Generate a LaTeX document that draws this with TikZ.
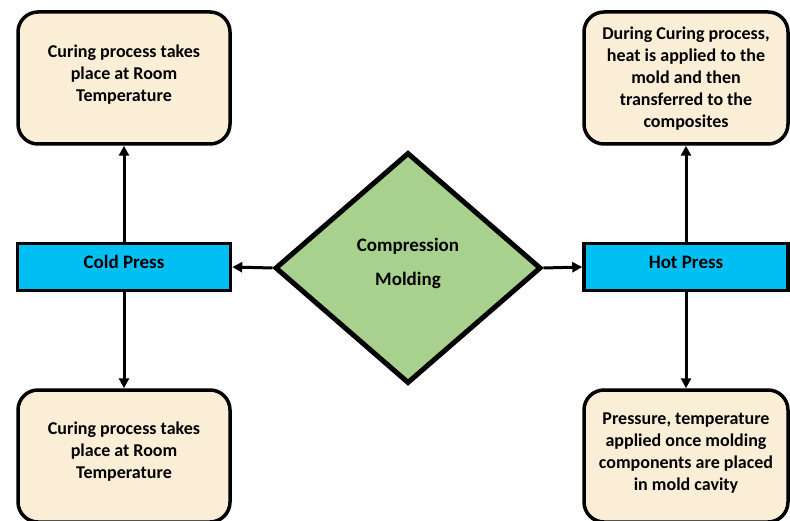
\documentclass[tikz,border=0pt]{standalone}
\usepackage{fontspec}
\setmainfont{Carlito}
\usetikzlibrary{shapes.geometric,arrows.meta}
\definecolor{cream}{RGB}{250,238,214}
\definecolor{pressblue}{RGB}{0,191,243}
\definecolor{diagreen}{RGB}{169,209,142}
\newcommand{\liftby}[2]{\raisebox{#1}[\height][\depth]{#2}}
\tikzset{
  infobox/.style={draw=black, line width=3.5pt, fill=cream, rounded corners=20pt,
    minimum width=212pt, minimum height=132pt, inner sep=0pt,
    font=\bfseries\fontsize{18}{22}\selectfont, align=center},
  rinfobox/.style={infobox, minimum width=204pt},
  pressbox/.style={draw=black, line width=3.5pt, fill=pressblue,
    minimum width=213pt, minimum height=47pt, inner sep=0pt,
    font=\bfseries\fontsize{19}{22}\selectfont},
  decision/.style={diamond, draw=black, line width=5pt, fill=diagreen,
    minimum width=266pt, minimum height=231pt, inner sep=0pt,
    font=\bfseries\fontsize{19}{34}\selectfont, align=center},
  conn/.style={line width=3pt, -{Triangle[length=10pt,width=10pt]}}
}
\begin{document}
\begin{tikzpicture}[x=1pt,y=-1pt]
\useasboundingbox (0,0) rectangle (790,521);
\clip (0,0) rectangle (790,521);
\node[decision] (cm) at (408,268) {\liftby{6pt}{\begin{tabular}{@{}c@{}}Compression\\ Molding\end{tabular}}};
\node[pressbox] (cold) at (124,267) {\liftby{5pt}{Cold Press}};
\node[pressbox, minimum width=204pt] (hot) at (686,267) {\liftby{5pt}{Hot Press}};
\node[infobox] (tl) at (124,78) {\liftby{3pt}{\begin{tabular}{@{}c@{}}Curing process takes\\ place at Room\\ Temperature\end{tabular}}};
\node[rinfobox] (tr) at (686,78) {\liftby{-1pt}{\begin{tabular}{@{}c@{}}During Curing process,\\ heat is applied to the\\ mold and then\\ transferred to the\\ composites\end{tabular}}};
\node[infobox] (bl) at (124,456) {\liftby{4pt}{\begin{tabular}{@{}c@{}}Curing process takes\\ place at Room\\ Temperature\end{tabular}}};
\node[rinfobox] (br) at (686,456) {\liftby{3pt}{\begin{tabular}{@{}c@{}}Pressure, temperature\\ applied once molding\\ components are placed\\ in mold cavity\end{tabular}}};
\draw[conn] (cm.west) -- (cold.east);
\draw[conn] (cm.east) -- (hot.west);
\draw[conn] (cold.north) -- (tl.south);
\draw[conn] (cold.south) -- (bl.north);
\draw[conn] (hot.north) -- (tr.south);
\draw[conn] (hot.south) -- (br.north);
\end{tikzpicture}
\end{document}
